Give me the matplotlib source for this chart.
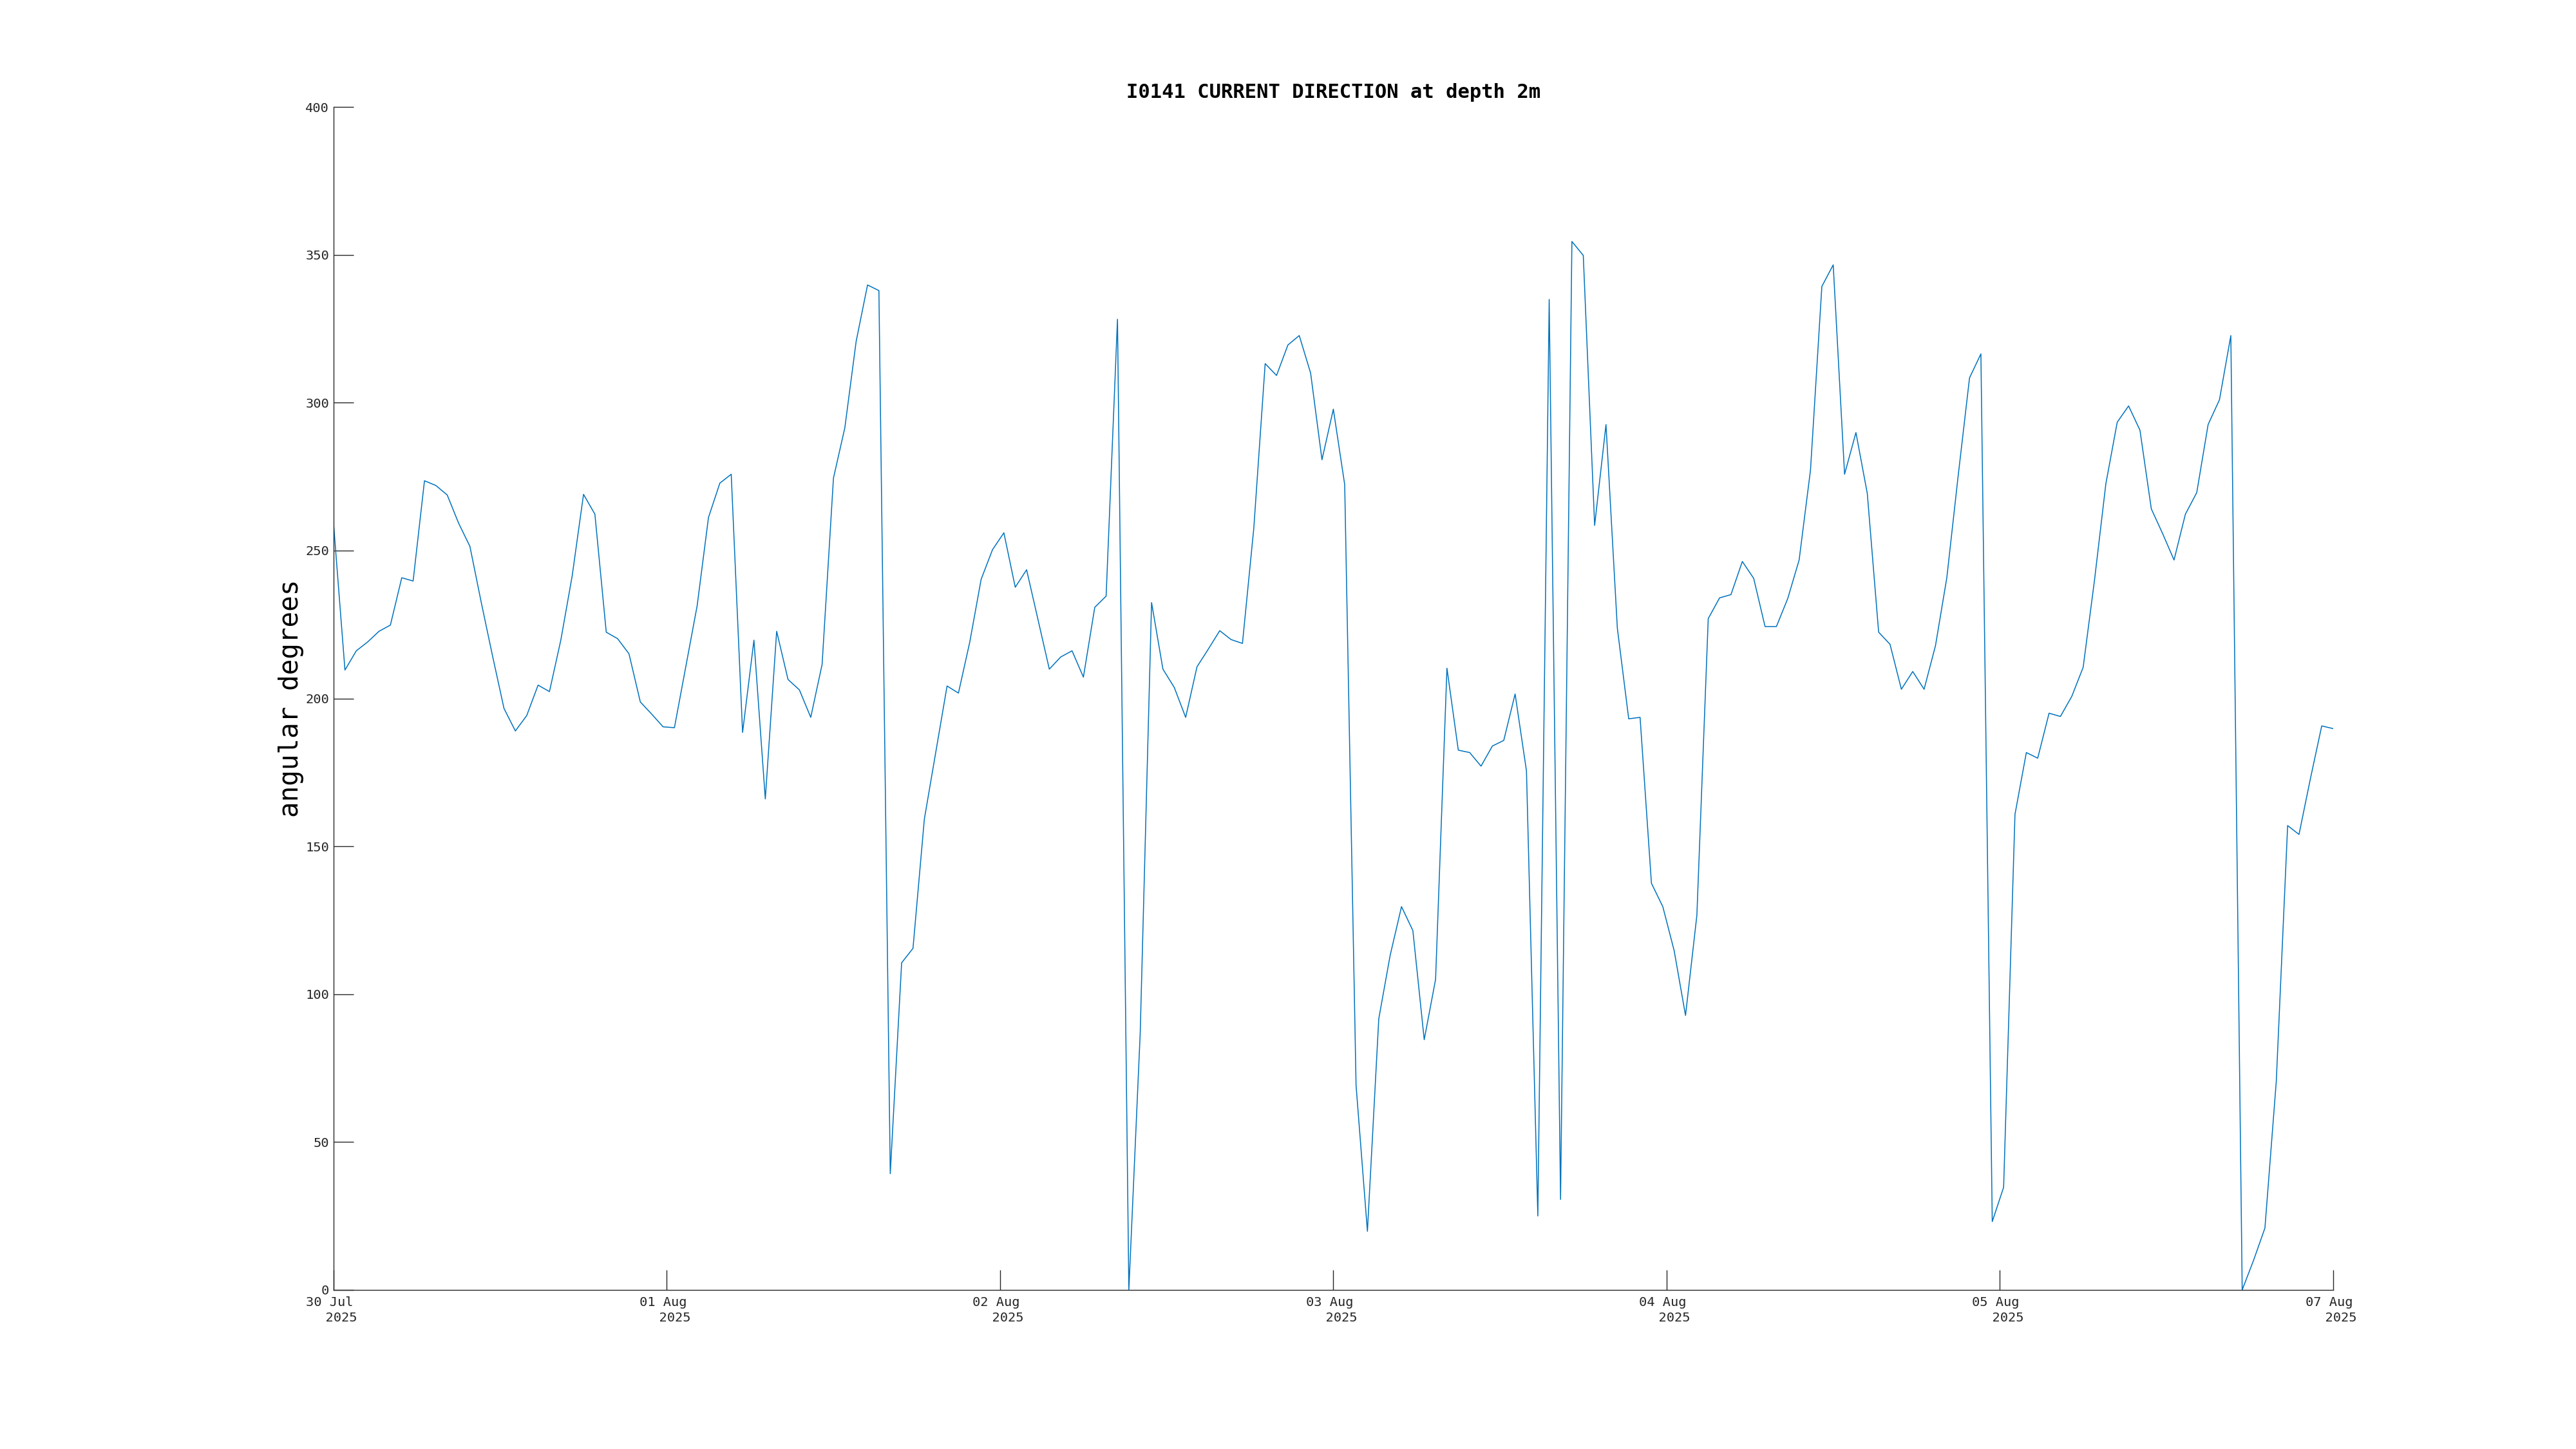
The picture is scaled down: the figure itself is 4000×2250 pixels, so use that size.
import matplotlib
matplotlib.use("Agg")
import matplotlib.pyplot as plt
import matplotlib.dates as mdates
import numpy as np
import pandas as pd

# hourly current direction, I0141 at 2 m
start = "2025-07-30 20:00"
direction = [
    259.0, 209.6, 216.1, 219.1, 222.7, 224.8, 240.8, 239.7, 273.6, 272.0,
    268.8, 259.3, 251.4, 232.4, 214.2, 196.6, 189.0, 194.2, 204.5, 202.3,
    219.7, 241.4, 269.0, 262.3, 222.4, 220.2, 215.1, 198.8, 194.7, 190.4,
    190.1, 210.7, 231.3, 261.2, 272.8, 275.8, 188.5, 219.7, 166.0, 222.7,
    206.4, 202.9, 193.6, 211.5, 274.5, 291.5, 320.8, 339.8, 337.9, 39.3,
    110.6, 115.5, 159.2, 181.7, 204.2, 201.8, 219.1, 240.3, 250.3, 256.0,
    237.6, 243.5, 226.7, 209.9, 214.0, 216.1, 207.2, 230.8, 234.6, 328.2,
    0.0, 86.8, 232.4, 209.9, 203.7, 193.6, 210.7, 216.7, 222.9, 219.9,
    218.6, 257.6, 313.2, 309.2, 319.5, 322.7, 310.0, 280.7, 297.8, 272.3,
    69.2, 19.8, 91.7, 113.1, 129.6, 121.5, 84.6, 105.0, 210.2, 182.5,
    181.7, 177.1, 183.9, 185.8, 201.5, 175.5, 25.0, 334.9, 30.6, 354.5,
    349.8, 258.5, 292.6, 223.7, 193.1, 193.6, 137.5, 129.6, 114.7, 92.8,
    126.7, 227.0, 234.0, 235.1, 246.3, 240.6, 224.3, 224.3, 233.8, 246.8,
    277.2, 339.3, 346.6, 275.8, 289.9, 269.3, 222.4, 218.3, 203.1, 209.1,
    203.1, 217.8, 240.8, 275.3, 308.4, 316.5, 23.1, 34.7, 160.8, 181.7,
    179.8, 195.0, 193.9, 200.7, 210.5, 240.0, 272.6, 293.4, 298.9, 290.7,
    264.1, 255.7, 246.8, 262.3, 269.6, 292.6, 301.0, 322.7, 0.0, 10.0,
    20.9, 70.5, 157.0, 154.0, 172.8, 190.7, 189.8,
]
times = pd.date_range(start, periods=len(direction), freq="h")
y_ticks = [0, 50, 100, 150, 200, 250, 300, 350, 400]

plt.rcParams["font.family"] = ["DejaVu Sans Mono"]
dark = "#262626"

fig = plt.figure(figsize=(40, 22.5), dpi=100)
ax = fig.add_axes([0.1295, 0.1098, 0.7762, 0.8164])

ax.plot(times, direction, color="#0072BD", linewidth=1.1)

t0 = mdates.date2num(times[0])
t1 = mdates.date2num(times[-1])
ax.set_xlim(t0, t1)
ax.set_ylim(0, 400)
ax.set_yticks(y_ticks)
ax.set_xticks(np.linspace(t0, t1, 7))
ax.xaxis.set_major_formatter(
    plt.FuncFormatter(lambda v, p: mdates.num2date(v).strftime("%d %b \n  %Y")))

for s in ["top", "right"]:
    ax.spines[s].set_visible(False)
for s in ["left", "bottom"]:
    ax.spines[s].set_color(dark)
    ax.spines[s].set_linewidth(1.0)

ax.tick_params(direction="in", length=22, width=1.0, color=dark,
               labelcolor=dark, labelsize=14.7)
ax.tick_params(axis="x", pad=7)
ax.tick_params(axis="y", pad=5)
for lab in ax.get_xticklabels():
    lab.set_linespacing(1.35)

ax.set_ylabel("angular degrees", fontsize=29.5, color="black", labelpad=2)
ax.set_title("I0141 CURRENT DIRECTION at depth 2m", fontsize=22,
             fontweight="bold", pad=10)

fig.savefig("out.png", dpi=100, facecolor="white")
